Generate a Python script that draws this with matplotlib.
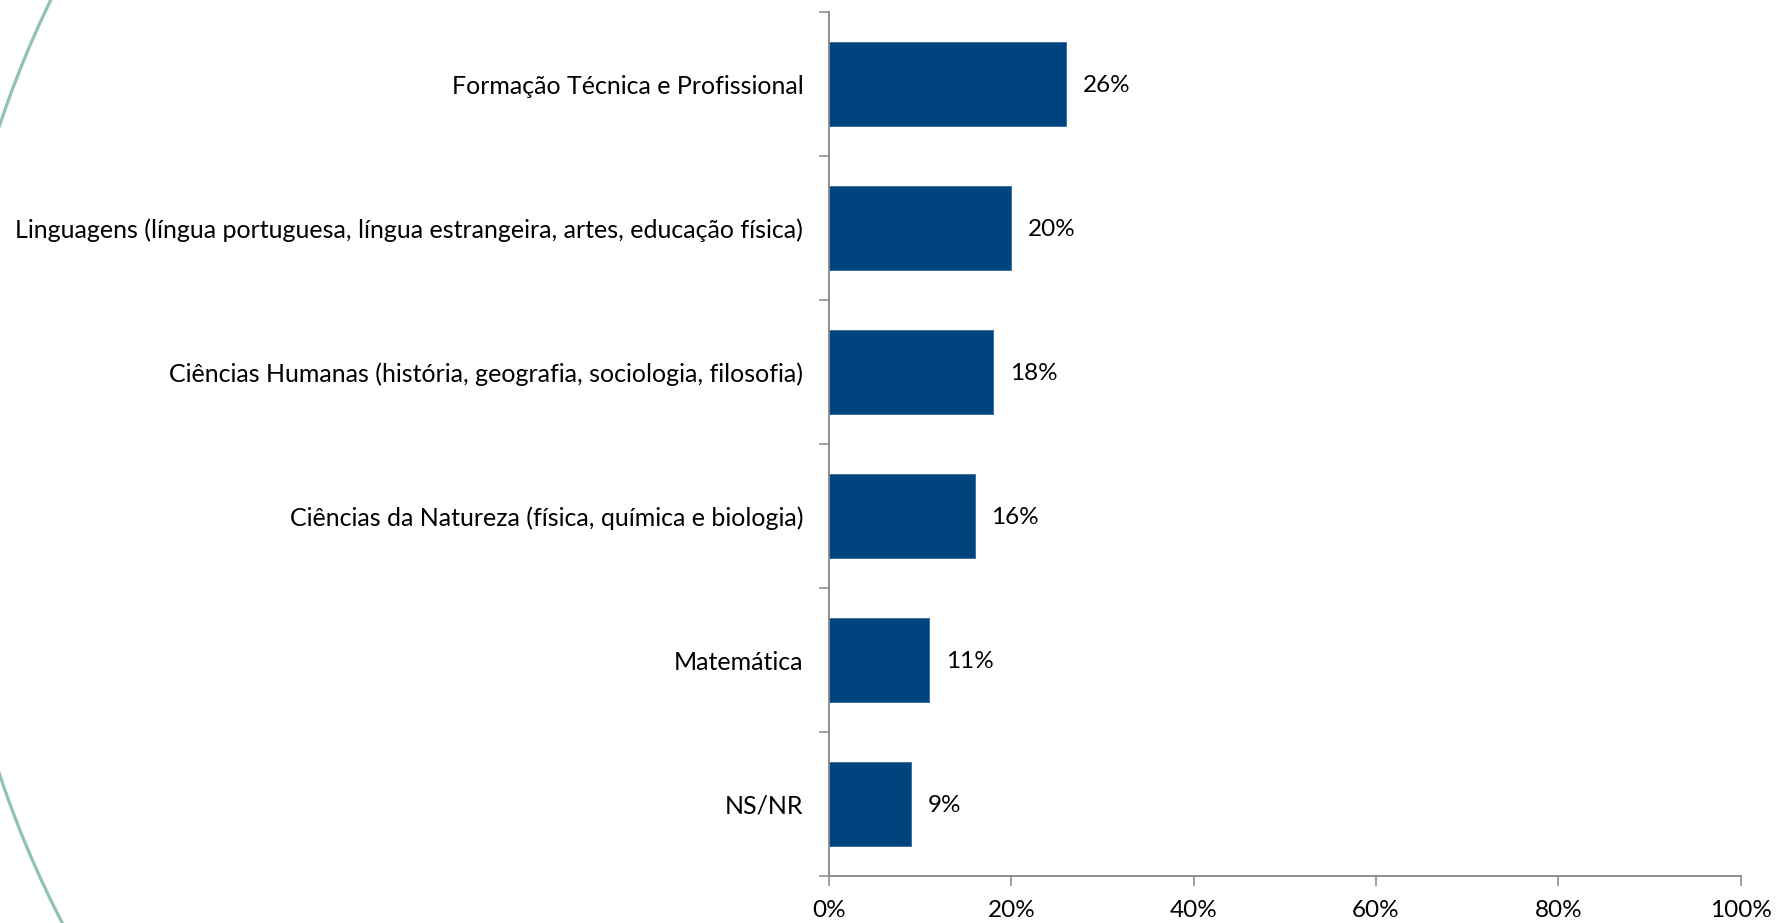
import matplotlib.pyplot as plt
from matplotlib.patches import Arc

# Dados do gráfico
categorias = [
    'Formação Técnica e Profissional',
    'Linguagens (língua portuguesa, língua estrangeira, artes, educação física)',
    'Ciências Humanas (história, geografia, sociologia, filosofia)',
    'Ciências da Natureza (física, química e biologia)',
    'Matemática',
    'NS/NR',
]
valores = [26, 20, 18, 16, 11, 9]
ticks_x = [0, 20, 40, 60, 80, 100]

W, H = 1776, 923
plt.rcParams['font.family'] = ['Lato', 'DejaVu Sans']
fig = plt.figure(figsize=(W / 100, H / 100), dpi=100)

# Arco decorativo do slide (fundo)
bg = fig.add_axes([0, 0, 1, 1], zorder=0)
bg.set_xlim(0, W)
bg.set_ylim(H, 0)
bg.axis('off')
bg.add_patch(Arc((975, 450), 2 * 1028, 2 * 1028, theta1=90, theta2=270,
                 color='#90c2b6', lw=2.3))

# Gráfico de barras
ax = fig.add_axes([829 / W, 1 - 876 / H, (1740.6 - 829) / W, (876 - 12) / H], zorder=1)
ax.patch.set_alpha(0)
y = list(range(len(categorias)))
bars = ax.barh(y, valores, height=0.59, color='#00447f', edgecolor='#2f6aa0', linewidth=0.6)

for b, v in zip(bars, valores):
    ax.annotate(f'{v}%', (b.get_width(), b.get_y() + b.get_height() / 2),
                xytext=(12, 0), textcoords='offset points',
                va='center_baseline', ha='left', fontsize=17.5)

ax.set_xlim(0, 100)
ax.set_ylim(len(categorias) - 0.5, -0.5)
ax.set_xticks(ticks_x)
ax.set_xticklabels([f'{t}%' for t in ticks_x], fontsize=17.5)
ax.set_yticks(y)
ax.set_yticklabels(categorias, fontsize=18)
ax.set_yticks([i - 0.5 for i in range(len(categorias) + 1)], minor=True)

ax.tick_params(axis='y', which='major', length=0, pad=18.5)
ax.tick_params(axis='y', which='minor', length=7, width=1.1, color='#868686', direction='out')
ax.tick_params(axis='x', length=7, width=1.1, color='#868686', pad=10)

for s in ['top', 'right']:
    ax.spines[s].set_visible(False)
for s in ['left', 'bottom']:
    ax.spines[s].set_color('#868686')
    ax.spines[s].set_linewidth(1.3)

fig.savefig('out.png', dpi=100)
